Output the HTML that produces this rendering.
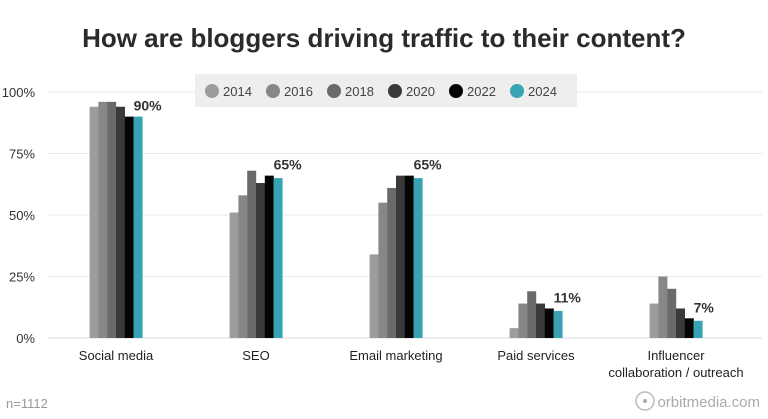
<!DOCTYPE html>
<html><head><meta charset="utf-8"><style>
body{margin:0;background:#fff;width:768px;height:414px;overflow:hidden;font-family:"Liberation Sans",sans-serif}
</style></head><body>
<svg width="768" height="414">
<text x="384" y="47" text-anchor="middle" font-size="26" font-weight="bold" fill="#2b2b2b">How are bloggers driving traffic to their content?</text>
<g id="grid"></g>
<rect x="195" y="74" width="382" height="33" fill="#eeeeee"/>
<g id="legend"></g>
<g id="bars"></g>
<text x="6" y="408" font-size="13" fill="#999">n=1112</text>
<circle cx="645" cy="401" r="9" fill="none" stroke="#bbb" stroke-width="1.5"/>
<circle cx="645" cy="401" r="2" fill="#aaa"/>
<text x="760" y="407" text-anchor="end" font-size="15" fill="#aaa">orbitmedia.com</text>
</svg>
<script>
const categories=["Social media","SEO","Email marketing","Paid services","Influencer|collaboration / outreach"];
const years=["2014","2016","2018","2020","2022","2024"];
const v2014=[94,51,34,4,14];
const v2016=[96,58,55,14,25];
const v2018=[96,68,61,19,20];
const v2020=[94,63,66,14,12];
const v2022=[90,66,66,12,8];
const v2024=[90,65,65,11,7];
const ticks=[0,25,50,75,100];
const colors=["#9c9c9c","#878787","#6a6a6a","#3a3a3a","#050505","#38a3b2"];
const series=[v2014,v2016,v2018,v2020,v2022,v2024];
const NS="http://www.w3.org/2000/svg";
function y(v){return 338-v*2.46;}
function cx(i){return 116+i*140;}
function mk(t,a,p){const e=document.createElementNS(NS,t);for(const k in a)e.setAttribute(k,a[k]);p.appendChild(e);return e;}
const grid=document.getElementById('grid');
ticks.forEach(t=>{
 const l=mk('line',{x1:48,x2:762,y1:y(t),y2:y(t),stroke:t===0?'#ddd':'#eaeaea','stroke-width':1},grid);
 
 
 const tx=mk('text',{x:35,y:y(t)+5,'text-anchor':'end','font-size':13,fill:'#333'},grid);
 tx.textContent=t+'%';
 
 
});
const lg=document.getElementById('legend');
years.forEach((yr,i)=>{
 const x=212+i*61;
 const c=mk('circle',{cx:x,cy:91,r:7,fill:colors[i]},lg);
 
 
 const t=mk('text',{x:x+11,y:96,'font-size':13,fill:'#444'},lg);
 t.textContent=yr;
 
 
});
const bars=document.getElementById('bars');
const bw=8.8;
categories.forEach((c,i)=>{
 const x0=cx(i)-3*bw;
 series.forEach((s,j)=>{
  const r=mk('rect',{x:x0+j*bw,y:y(s[i]),width:bw+0.2,height:338-y(s[i]),fill:colors[j]},bars);
  
  
 });
 const vl=mk('text',{x:x0+5*bw,y:y(Math.max(v2022[i],v2024[i]))-6,'font-size':14,'font-weight':'bold',fill:'#333'},bars);
 vl.textContent=v2024[i]+'%';
 
 
 const parts=c.split('|');
 parts.forEach((p,k)=>{
  const t=mk('text',{x:cx(i),y:360+k*17,'text-anchor':'middle','font-size':13,fill:'#222'},bars);
  t.textContent=p;
  
  
 });
});
</script>
</body></html>
